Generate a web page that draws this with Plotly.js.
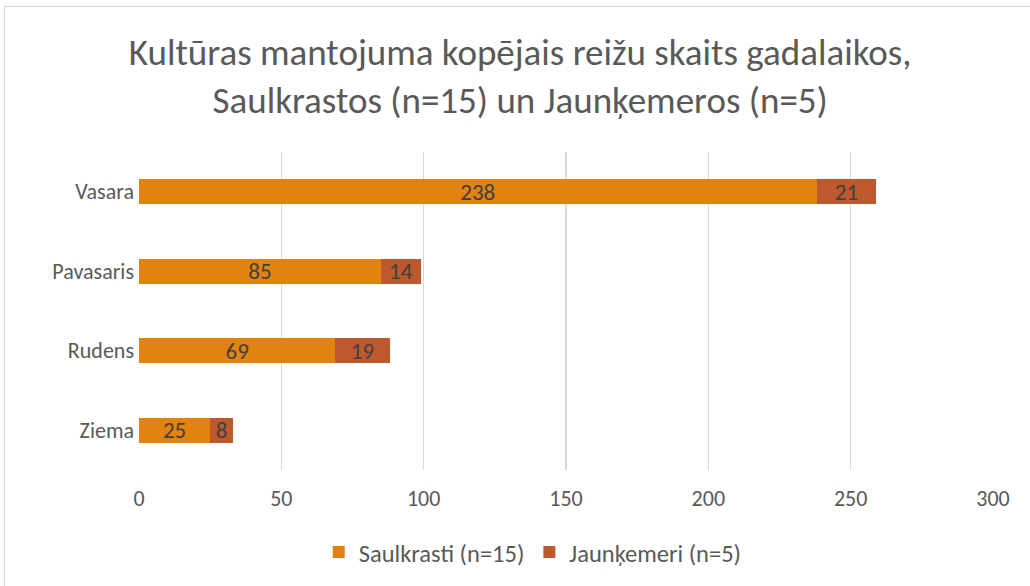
<!DOCTYPE html>
<html>
<head>
<meta charset="utf-8">
<script src="https://cdn.plot.ly/plotly-3.0.1.min.js"></script>
<style>
html,body{margin:0;padding:0;background:#fff;}
#wrap{position:relative;width:1030px;height:586px;overflow:hidden;}
#chart{width:1030px;height:586px;}
#frame{position:absolute;left:4px;top:6px;width:1040px;height:600px;border:1px solid #d9d9d9;pointer-events:none;}
</style>
</head>
<body>
<div id="wrap"><div id="chart"></div><div id="frame"></div></div>
<script>
const categories = ["Ziema", "Rudens", "Pavasaris", "Vasara"];
const saulkrasti = [25, 69, 85, 238];
const jaunkemeri = [8, 19, 14, 21];
const seriesNames = ["Saulkrasti (n=15)", "Jaunķemeri (n=5)"];
const xTicks = [0, 50, 100, 150, 200, 250, 300];

const font = "Calibri, Carlito, 'Open Sans', sans-serif";
const traces = [
  {type:"bar", orientation:"h", name:seriesNames[0], y:categories, x:saulkrasti,
   marker:{color:"#E3830F"}, text:saulkrasti.map(String), textposition:"inside",
   insidetextanchor:"middle", textangle:0, constraintext:"none",
   textfont:{family:font, size:23, color:"#404040"}, hoverinfo:"x+y"},
  {type:"bar", orientation:"h", name:seriesNames[1], y:categories, x:jaunkemeri,
   marker:{color:"#BE582D"}, text:jaunkemeri.map(String), textposition:"inside",
   insidetextanchor:"middle", textangle:0, constraintext:"none",
   textfont:{family:font, size:23, color:"#404040"}, hoverinfo:"x+y"}
];
const layout = {
  width:1030, height:586,
  barmode:"stack", bargap:0.69,
  paper_bgcolor:"#fff", plot_bgcolor:"#fff",
  font:{family:font, color:"#595959"},
  title:{text:"Kultūras mantojuma kopējais reižu skaits gadalaikos,<br>Saulkrastos (n=15) un Jaunķemeros (n=5)",
         font:{family:font, size:37, color:"#595959"}, x:0.505, xanchor:"center", y:0.889, yanchor:"middle"},
  margin:{l:139, r:37, t:152, b:116},
  xaxis:{range:[0,300], tickvals:xTicks, showgrid:true, gridcolor:"#d9d9d9", gridwidth:1.5,
         zeroline:false, showline:false, ticks:"", ticklabelstandoff:13,
         tickfont:{family:font, size:22, color:"#595959"}, fixedrange:true},
  yaxis:{categoryorder:"array", categoryarray:categories, showgrid:false, zeroline:false,
         showline:false, ticks:"", ticklabelstandoff:4, tickfont:{family:font, size:22, color:"#595959"},
         fixedrange:true},
  legend:{orientation:"h", x:0.461, xanchor:"center", y:-0.258, yanchor:"middle",
          font:{family:font, size:24.5, color:"#595959"}, traceorder:"normal"},
  uniformtext:{mode:"show", minsize:10},
  showlegend:true
};
Plotly.newPlot("chart", traces, layout, {displayModeBar:false, staticPlot:true});
</script>
</body>
</html>
